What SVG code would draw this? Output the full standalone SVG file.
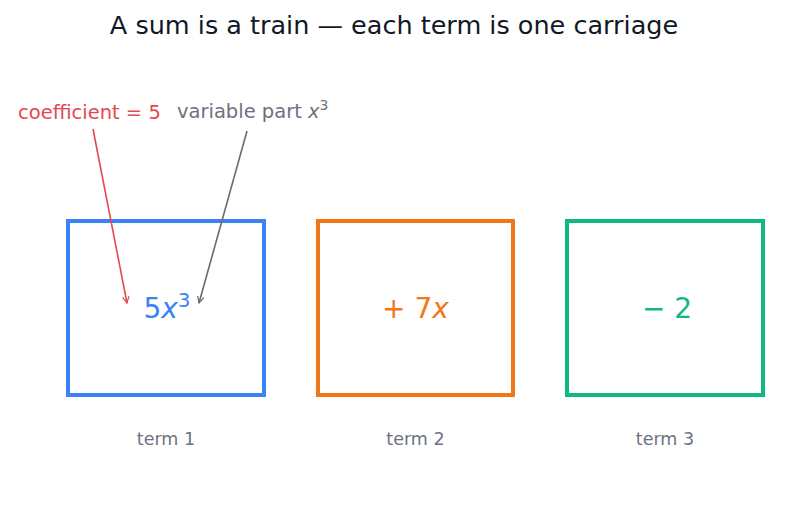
<svg xmlns="http://www.w3.org/2000/svg" width="787" height="512" viewBox="0 0 787 512">
<style>
text{font-family:"DejaVu Sans",sans-serif}
.box{fill:none;stroke-width:4}
.math{font-size:28px;text-anchor:middle}
.cap{font-size:17.5px;fill:#6b7280;text-anchor:middle}
.ann{font-size:19.5px}
</style>
<defs>
<marker id="ar" viewBox="0 0 10 10" refX="9" refY="5" markerWidth="8" markerHeight="8" orient="auto" markerUnits="userSpaceOnUse"><path d="M1,1 L9,5 L1,9" fill="none" stroke="#e5484d" stroke-width="1.5"/></marker>
<marker id="ag" viewBox="0 0 10 10" refX="9" refY="5" markerWidth="8" markerHeight="8" orient="auto" markerUnits="userSpaceOnUse"><path d="M1,1 L9,5 L1,9" fill="none" stroke="#6b6b6b" stroke-width="1.5"/></marker>
</defs>
<rect width="787" height="512" fill="#fff"/>
<text x="394" y="34" font-size="25.5" text-anchor="middle" fill="#111827">A sum is a train — each term is one carriage</text>
<g id="term1">
<rect class="box" x="68" y="221" width="196" height="174" stroke="#3b82f6"/>
<text class="math" x="167" y="318" fill="#3b82f6">5<tspan font-style="italic">x</tspan><tspan font-size="20" dy="-11">3</tspan></text>
<text class="cap" x="166" y="445">term 1</text>
</g>
<g id="term2">
<rect class="box" x="318" y="221" width="195" height="174" stroke="#f07818"/>
<text class="math" x="415.5" y="318" fill="#f07818">+ 7<tspan font-style="italic">x</tspan></text>
<text class="cap" x="415.5" y="445">term 2</text>
</g>
<g id="term3">
<rect class="box" x="567" y="221" width="196" height="174" stroke="#10b981"/>
<text class="math" x="667" y="318" fill="#10b981">− 2</text>
<text class="cap" x="665" y="445">term 3</text>
</g>
<g id="labels">
<text class="ann" x="18" y="119" fill="#e5484d">coefficient = 5</text>
<text class="ann" x="177" y="118" fill="#6b7280">variable part <tspan font-style="italic">x</tspan><tspan font-size="14" dy="-8">3</tspan></text>
</g>
<g id="connectors" fill="none" stroke-width="1.6">
<line x1="93" y1="129" x2="127" y2="303" stroke="#e5484d" marker-end="url(#ar)"/>
<line x1="247" y1="131" x2="199" y2="303" stroke="#6b6b6b" marker-end="url(#ag)"/>
</g>
</svg>
